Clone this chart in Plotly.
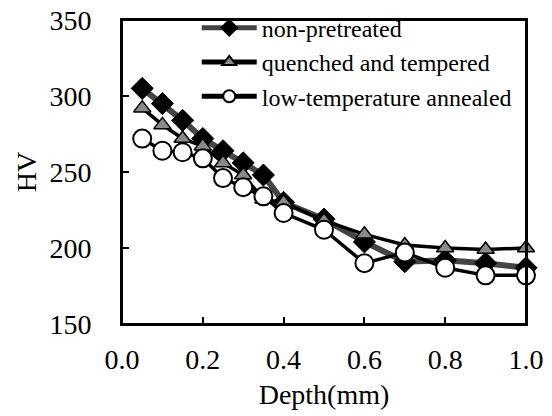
import plotly.graph_objects as go

depth = [0.05, 0.1, 0.15, 0.2, 0.25, 0.3, 0.35, 0.4, 0.5, 0.6, 0.7, 0.8, 0.9, 1.0]
hv_non_pretreated = [305, 295, 284, 272, 264, 256, 248, 230, 219, 204, 191, 192, 190, 187]
hv_quenched = [292, 281, 272, 267, 256, 248, 232, 230, 218, 209, 202, 200, 199, 200]
hv_annealed = [272, 264, 263, 259, 246, 240, 234, 223, 212, 190, 197, 187, 182, 182]

serif = '"Liberation Serif", "Times New Roman", Times, serif'
tick_font = dict(family=serif, size=28, color="black")

fig = go.Figure()
fig.add_trace(go.Scatter(
    x=depth, y=hv_non_pretreated, name="non-pretreated", mode="lines+markers",
    line=dict(color="#444444", width=6), cliponaxis=False,
    marker=dict(symbol="diamond", size=17, color="black", line=dict(color="black", width=1)),
))
fig.add_trace(go.Scatter(
    x=depth, y=hv_quenched, name="quenched and tempered", mode="lines+markers",
    line=dict(color="black", width=3.5), cliponaxis=False,
    marker=dict(symbol="triangle-up", size=15, color="#8a8a8a", line=dict(color="black", width=1.5)),
))
fig.add_trace(go.Scatter(
    x=depth, y=hv_annealed, name="low-temperature annealed", mode="lines+markers",
    line=dict(color="black", width=3.5), cliponaxis=False,
    marker=dict(symbol="circle", size=18, color="white", line=dict(color="black", width=2)),
))

# frame around the plot area (top and right sides too)
fig.add_shape(type="rect", xref="paper", yref="paper", x0=0, y0=0, x1=1, y1=1,
              line=dict(color="black", width=2), layer="above")

fig.update_layout(
    width=552, height=416,
    margin=dict(l=122, r=26, t=20, b=92, autoexpand=False),
    plot_bgcolor="white", paper_bgcolor="white",
    font=dict(family=serif, color="black", size=28),
    showlegend=True,
    legend=dict(
        x=0.185, y=1.047, xanchor="left", yanchor="top",
        bgcolor="rgba(0,0,0,0)", font=dict(size=24, family=serif, color="black"),
        itemsizing="constant", itemwidth=55, tracegroupgap=0,
    ),
    xaxis=dict(
        title=dict(text="Depth(mm)", standoff=11, font=tick_font),
        range=[0, 1.0], dtick=0.2, tickformat=".1f", tickfont=tick_font,
        ticks="inside", ticklen=7, tickwidth=1.5, tickcolor="black",
        showline=True, linecolor="black", linewidth=2, mirror=True,
        showgrid=False, zeroline=False, ticklabelstandoff=9,
    ),
    yaxis=dict(
        title=dict(text="HV", standoff=5, font=tick_font),
        range=[150, 350], dtick=50, tickfont=tick_font,
        ticks="inside", ticklen=7, tickwidth=1.5, tickcolor="black",
        showline=True, linecolor="black", linewidth=2, mirror=True,
        showgrid=False, zeroline=False, ticklabelstandoff=23,
    ),
)

# the page body has a default 8px margin; drop it so the figure sits at the window origin
fig.write_html("out.html", config={"displayModeBar": False},
               post_script="document.body.style.margin='0';")
